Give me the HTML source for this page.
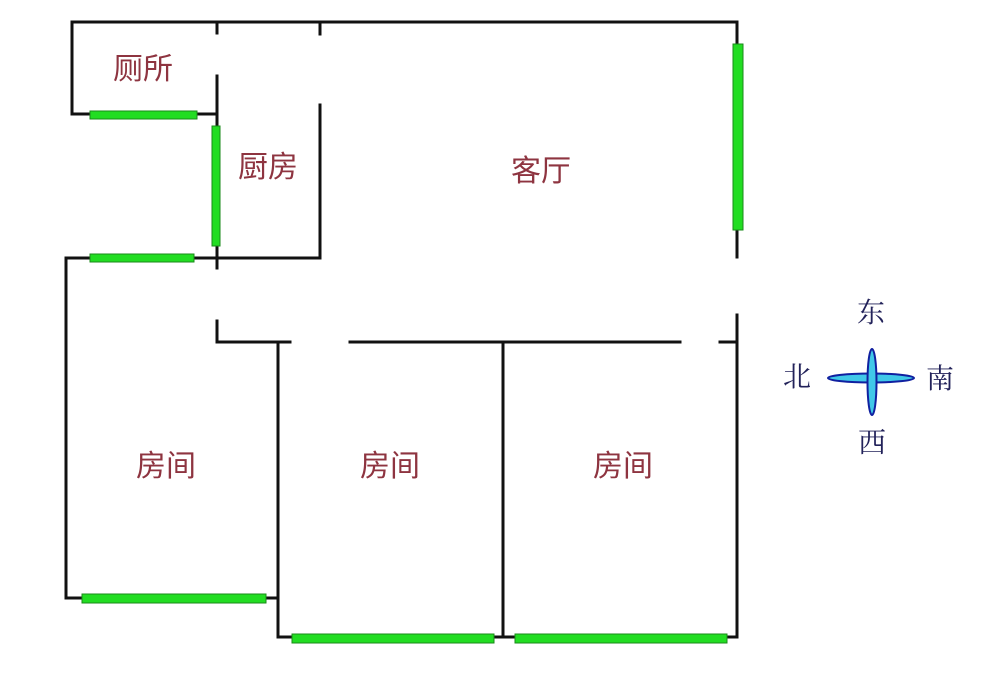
<!DOCTYPE html>
<html><head><meta charset="utf-8"><style>
html,body{margin:0;padding:0;background:#fff;width:1000px;height:686px;overflow:hidden}
svg{display:block}
.r{font-family:"Liberation Sans","Noto Sans CJK SC",sans-serif;font-size:30px;fill:#8e3440}
.c{font-family:"Liberation Serif","Noto Serif CJK SC",serif;font-size:28px;fill:#22225a}
</style></head><body>
<svg width="1000" height="686" viewBox="0 0 1000 686" xmlns="http://www.w3.org/2000/svg">
<g stroke="#111" stroke-width="3" fill="none" stroke-linecap="square">
<path d="M72 114 V22 H737 V257"/>
<path d="M737 315 V637 H278 V342"/>
<path d="M217 22 V33 M320 22 V34"/>
<path d="M72 114 H217 M217 76 V268"/>
<path d="M320 105 V258 H66 V598 H278"/>
<path d="M217 321 V342 H290 M350 342 H680 M720 342 H737"/>
<path d="M503 342 V637"/>
</g>
<g fill="#22dd22" stroke="#1a8a1a" stroke-width="1">
<rect x="90" y="111" width="107" height="8"/>
<rect x="212" y="126" width="8" height="120"/>
<rect x="90" y="254" width="104" height="8"/>
<rect x="733" y="44" width="10" height="186"/>
<rect x="82" y="594" width="184" height="9"/>
<rect x="292" y="634" width="202" height="9"/>
<rect x="515" y="634" width="212" height="9"/>
</g>
<text class="r" x="143" y="79" text-anchor="middle">厕所</text>
<text class="r" x="268" y="177" text-anchor="middle">厨房</text>
<text class="r" x="541" y="181" text-anchor="middle">客厅</text>
<text class="r" x="166" y="476" text-anchor="middle">房间</text>
<text class="r" x="390" y="476" text-anchor="middle">房间</text>
<text class="r" x="623" y="476" text-anchor="middle">房间</text>
<ellipse cx="871" cy="378" rx="43" ry="4.5" fill="#40c8e8" stroke="#1020a0" stroke-width="2"/>
<ellipse cx="872" cy="382" rx="4.5" ry="33" fill="#40c8e8" stroke="#1020a0" stroke-width="2"/>
<text class="c" x="871" y="322" text-anchor="middle">东</text>
<text class="c" x="797" y="386" text-anchor="middle">北</text>
<text class="c" x="940" y="388" text-anchor="middle">南</text>
<text class="c" x="872" y="452" text-anchor="middle">西</text>
</svg>
</body></html>
